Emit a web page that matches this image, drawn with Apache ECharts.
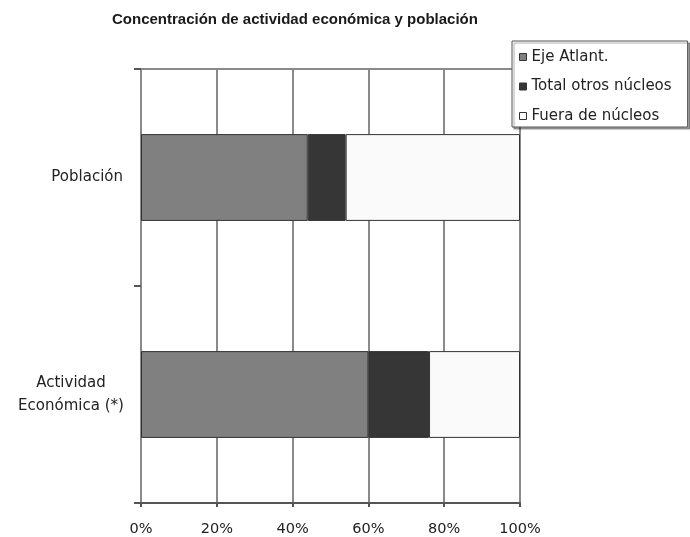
<!DOCTYPE html>
<html>
<head>
<meta charset="utf-8">
<script src="https://cdn.jsdelivr.net/npm/echarts@6/dist/echarts.min.js"></script>
<style>
  html, body { margin: 0; padding: 0; background: #fff; }
  #chart { width: 690px; height: 537px; }
</style>
</head>
<body>
<div id="chart"></div>
<script>
// Categories (bottom to top on the y axis)
const categories = ['Actividad Económica (*)', 'Población'];
// Shares in percent for each group
const ejeAtlant = [60, 44];
const otrosNucleos = [16, 10];
const fueraNucleos = [24, 46];
const seriesNames = ['Eje Atlant.', 'Total otros núcleos', 'Fuera de núcleos'];
const seriesColors = ['#808080', '#363636', '#fafafa'];
const xTicks = [0, 20, 40, 60, 80, 100];

const titleFont = '"Liberation Sans", Arial, sans-serif';
const font = '"DejaVu Sans", sans-serif';
const chart = echarts.init(document.getElementById('chart'));

const dataSets = [ejeAtlant, otrosNucleos, fueraNucleos];

chart.setOption({
  animation: false,
  backgroundColor: '#ffffff',
  title: {
    text: 'Concentración de actividad económica y población',
    left: 112,
    top: 12,
    padding: 0,
    textStyle: { fontFamily: titleFont, fontSize: 15, fontWeight: 'bold', color: '#1a1a1a' }
  },
  legend: {
    orient: 'vertical',
    left: 512,
    top: 41,
    data: seriesNames,
    icon: 'rect',
    itemWidth: 7,
    itemHeight: 7,
    itemGap: 13.5,
    padding: [8, 16, 3, 7],
    backgroundColor: '#ffffff',
    borderColor: '#555',
    borderWidth: 1,
    shadowColor: 'rgba(0,0,0,0.35)',
    shadowOffsetX: 2,
    shadowOffsetY: 2,
    shadowBlur: 1,
    textStyle: { fontFamily: font, fontSize: 15, color: '#222', lineHeight: 16 },
    itemStyle: { borderColor: '#333', borderWidth: 1 }
  },
  grid: { left: 141, right: 170, top: 69, bottom: 33, containLabel: false, show: false },
  xAxis: [{
    type: 'value',
    min: 0,
    max: 100,
    interval: 20,
    axisLine: { show: true, lineStyle: { color: '#555', width: 2 } },
    axisTick: { show: true, length: 4, lineStyle: { color: '#555', width: 2 } },
    splitLine: { show: true, lineStyle: { color: '#8a8a8a', width: 2 } },
    axisLabel: {
      margin: 19,
      fontFamily: font,
      fontSize: 14.5,
      color: '#222',
      formatter: v => xTicks.includes(v) ? v + '%' : ''
    }
  }, {
    // top edge of the plot frame
    type: 'value',
    position: 'top',
    min: 0,
    max: 100,
    interval: 20,
    axisLine: { show: true, lineStyle: { color: '#8a8a8a', width: 2 } },
    axisTick: { show: false },
    axisLabel: { show: false },
    splitLine: { show: false }
  }],
  yAxis: [{
    type: 'category',
    data: categories,
    axisLine: { show: true, lineStyle: { color: '#666', width: 2 } },
    axisTick: { show: true, length: 7, lineStyle: { color: '#555', width: 2 } },
    splitLine: { show: false },
    axisLabel: {
      margin: 18,
      fontFamily: font,
      fontSize: 15,
      color: '#222',
      lineHeight: 23,
      formatter: v => {
        if (v === 'Población') return '{p|Población}';
        const parts = v.split(' ');
        return '{c|' + parts[0] + '}\n{c|' + parts.slice(1).join(' ') + '}';
      },
      rich: {
        p: { fontFamily: font, fontSize: 15, color: '#222' },
        c: { fontFamily: font, fontSize: 15, color: '#222', width: 104, align: 'center', lineHeight: 23 }
      }
    }
  }, {
    // right edge of the plot frame
    type: 'category',
    position: 'right',
    data: categories,
    axisLine: { show: true, lineStyle: { color: '#8a8a8a', width: 2 } },
    axisTick: { show: false },
    axisLabel: { show: false }
  }],
  series: dataSets.map((d, i) => ({
    name: seriesNames[i],
    type: 'bar',
    stack: 'total',
    barWidth: '40%',
    data: d,
    itemStyle: { color: seriesColors[i], borderColor: '#333', borderWidth: 1 }
  }))
});
</script>
</body>
</html>
